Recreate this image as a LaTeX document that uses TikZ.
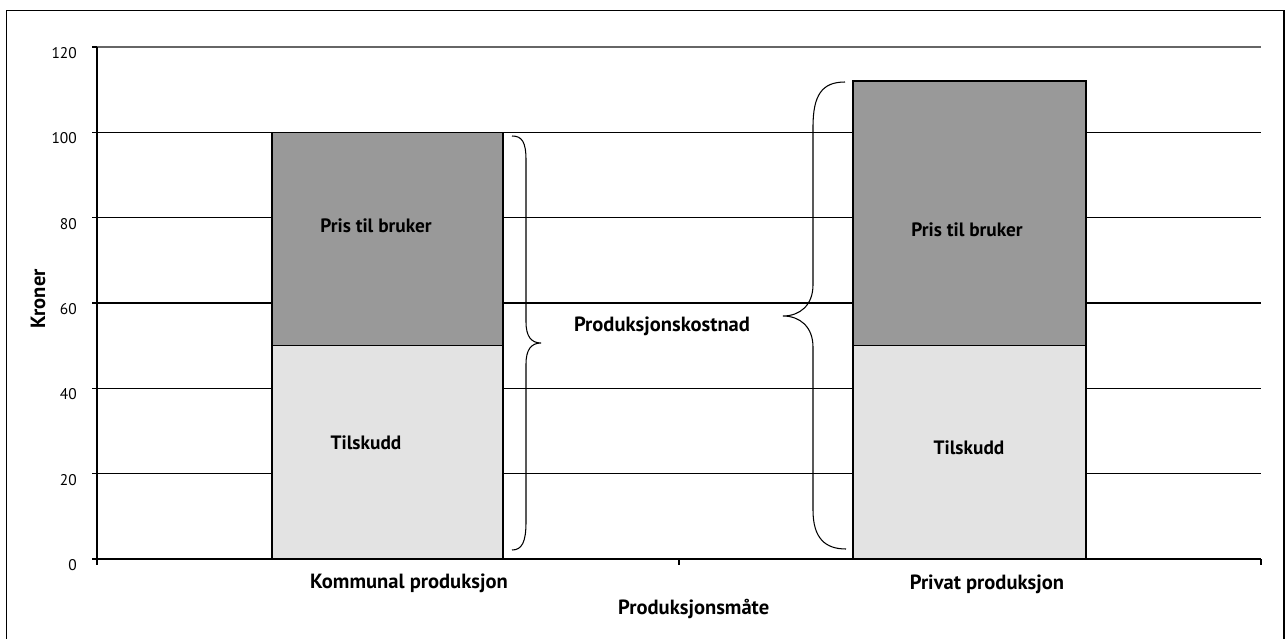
\documentclass[tikz,border=0pt]{standalone}
\usepackage{fontspec}
\setmainfont{PT Sans}
\usetikzlibrary{positioning}

\definecolor{tilskuddgray}{HTML}{E3E3E3}
\definecolor{prisgray}{HTML}{999999}

\begin{document}
\begin{tikzpicture}[
        x=0.02cm, y=-0.02cm,
        gridline/.style={line width=0.6pt},
        axisline/.style={line width=0.8pt},
        bar/.style={draw=black, line width=0.9pt},
        brace/.style={line width=0.6pt},
        lbl/.style={font=\bfseries\fontsize{11}{13}\selectfont},
        title/.style={font=\bfseries\fontsize{11.7}{14}\selectfont},
        ticklbl/.style={font=\fontsize{8.8}{10}\selectfont, anchor=east}
        ]
        \useasboundingbox (0,0) rectangle (1286,639);
        % chart frame
        \draw[line width=0.8pt] (6.5,645) -- (6.5,10.5) -- (1284,10.5) -- (1284,645);

        % grid lines and y scale
        \foreach \v in {20,40,...,100}
            \draw[gridline] (92,{559-4.2667*\v}) -- (1261,{559-4.2667*\v});
        \draw[gridline, draw=black!60, line width=0.8pt] (97,47) -- (1261,47);
        \foreach \v in {0,20,...,120}
            \node[ticklbl] (y\v) at (83,{565-4.2667*\v}) {\v};

        % axes
        \draw[axisline] (97,47) -- (97,559) -- (1261,559);
        \draw[axisline] (92,47) -- (97,47) (92,559) -- (97,559);
        \foreach \x in {97,679,1261}
            \draw[axisline] (\x,559) -- (\x,565);

        % bars
        \draw[bar, fill=tilskuddgray] (272,559) rectangle (503,345.67);
        \draw[bar, fill=prisgray] (272,345.67) rectangle (503,132.33);
        \draw[bar, fill=tilskuddgray] (853,559) rectangle (1086,345.67);
        \draw[bar, fill=prisgray] (853,345.67) rectangle (1086,81.1);

        \node[lbl] (pris1) at (376,226) {Pris til bruker};
        \node[lbl] (tilskudd1) at (366,443) {Tilskudd};
        \node[lbl] (pris2) at (967,230) {Pris til bruker};
        \node[lbl] (tilskudd2) at (969,448) {Tilskudd};

        % braces
        \draw[brace] (512,136) .. controls (522,136) and (526,142) .. (526,160) -- (526,322)
            .. controls (526,336) and (531,343) .. (541,343)
            .. controls (531,343) and (526,350) .. (526,364) -- (526,522)
            .. controls (526,542) and (522,550) .. (512,550);
        \draw[brace] (845,82) .. controls (822,82) and (813,95) .. (813,127) -- (813,285)
            .. controls (813,305) and (800,316) .. (783,316)
            .. controls (800,316) and (813,327) .. (813,347) -- (813,510)
            .. controls (813,538) and (825,549) .. (846,549);
        \node[title] (kostnad) at (662,326) {Produksjonskostnad};

        % axis titles
        \node[title] (kommunal) at (409,583) {Kommunal produksjon};
        \node[title] (privat) at (987,584) {Privat produksjon};
        \node[title, anchor=west] (maate) at (612,609) {Produksjonsmåte};
        \node[title, rotate=90] (kroner) at (38,299) {Kroner};
    \end{tikzpicture}
\end{document}
